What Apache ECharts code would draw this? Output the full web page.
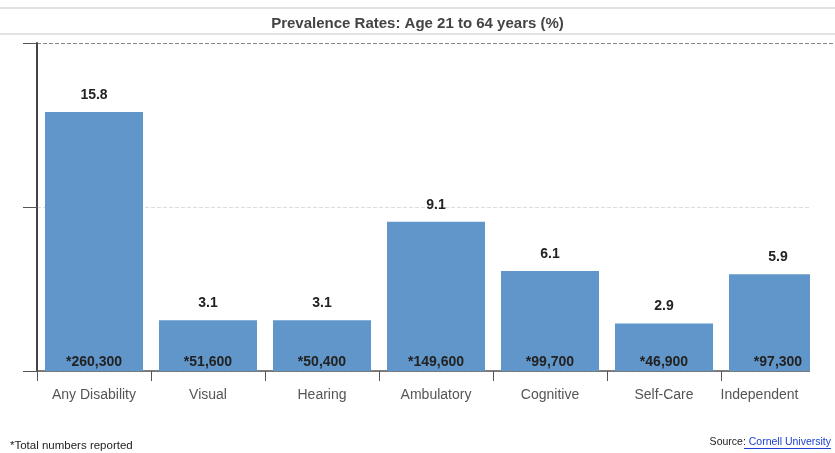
<!DOCTYPE html>
<html>
<head>
<meta charset="utf-8">
<script src="https://cdn.jsdelivr.net/npm/echarts@6/dist/echarts.min.js"></script>
<style>
  html, body { margin: 0; padding: 0; background: #fff; }
  #chart { width: 835px; height: 453px; }
</style>
</head>
<body>
<div id="chart"></div>
<script>
// data
const categories = ['Any Disability', 'Visual', 'Hearing', 'Ambulatory', 'Cognitive', 'Self-Care', 'Independent'];
const rates = [15.8, 3.1, 3.1, 9.1, 6.1, 2.9, 5.9];
const totals = ['*260,300', '*51,600', '*50,400', '*149,600', '*99,700', '*46,900', '*97,300'];

const chart = echarts.init(document.getElementById('chart'));

const option = {
  animation: false,
  title: {
    text: 'Prevalence Rates: Age 21 to 64 years (%)',
    left: 'center',
    top: 11,
    textStyle: { fontFamily: 'Liberation Sans', fontSize: 15, fontWeight: 'bold', color: '#444' }
  },
  grid: { left: 37, right: -5, top: 43, bottom: 82 },
  xAxis: {
    type: 'category',
    data: categories,
    axisLine: { lineStyle: { color: '#555', width: 1.5 } },
    axisTick: { show: true, interval: 0, alignWithLabel: false, length: 10, lineStyle: { color: '#555', width: 1 } },
    axisLabel: {
      interval: 0,
      fontFamily: 'Liberation Sans',
      fontSize: 14,
      color: '#555',
      margin: 17,
      formatter: (v, i) => i === categories.length - 1 ? '{last|' + v + '}' : v,
      rich: { last: { fontFamily: 'Liberation Sans', fontSize: 14, color: '#555', padding: [0, 37, 0, 0] } }
    }
  },
  yAxis: {
    type: 'value',
    min: 0,
    max: 20,
    interval: 10,
    axisLine: { show: true, lineStyle: { color: '#444', width: 2 } },
    axisTick: { show: true, length: 14, lineStyle: { color: '#555' } },
    axisLabel: { show: false },
    splitLine: { lineStyle: { type: 'dashed', color: ['#ddd', '#ddd', '#888'] } }
  },
  series: [
    {
      type: 'bar',
      data: rates,
      barWidth: 98,
      itemStyle: { color: '#6096c9' },
      label: {
        show: true,
        position: 'top',
        distance: 10,
        fontFamily: 'Liberation Sans',
        fontSize: 14,
        fontWeight: 'bold',
        color: '#222'
      }
    },
    {
      type: 'bar',
      data: rates,
      barWidth: 98,
      barGap: '-100%',
      itemStyle: { color: 'rgba(0,0,0,0)' },
      label: {
        show: true,
        position: 'insideBottom',
        distance: 2,
        formatter: p => totals[p.dataIndex],
        fontFamily: 'Liberation Sans',
        fontSize: 14,
        fontWeight: 'bold',
        color: '#222'
      }
    }
  ],
  graphic: [
    { type: 'rect', shape: { x: 0, y: 7, width: 835, height: 2 }, style: { fill: '#e2e2e2' } },
    { type: 'rect', shape: { x: 0, y: 33, width: 835, height: 2 }, style: { fill: '#e2e2e2' } },
    { type: 'rect', shape: { x: 810, y: 46, width: 30, height: 335 }, style: { fill: '#fff' }, z: 100 },
    {
      type: 'text', left: 10, top: 440,
      style: { text: '*Total numbers reported', fontFamily: 'Liberation Sans', fontSize: 11.5, fill: '#222' }
    },
    {
      type: 'text', right: 4, top: 437,
      style: {
        text: '{s|Source: }{l|Cornell University}',
        rich: {
          s: { fontFamily: 'Liberation Sans', fontSize: 10.5, fill: '#222' },
          l: { fontFamily: 'Liberation Sans', fontSize: 10.5, fill: '#1a3fd0' }
        }
      }
    },
    { type: 'rect', right: 4, top: 448, shape: { width: 87, height: 1 }, style: { fill: '#1a3fd0' } }
  ]
};

chart.setOption(option);
</script>
</body>
</html>
